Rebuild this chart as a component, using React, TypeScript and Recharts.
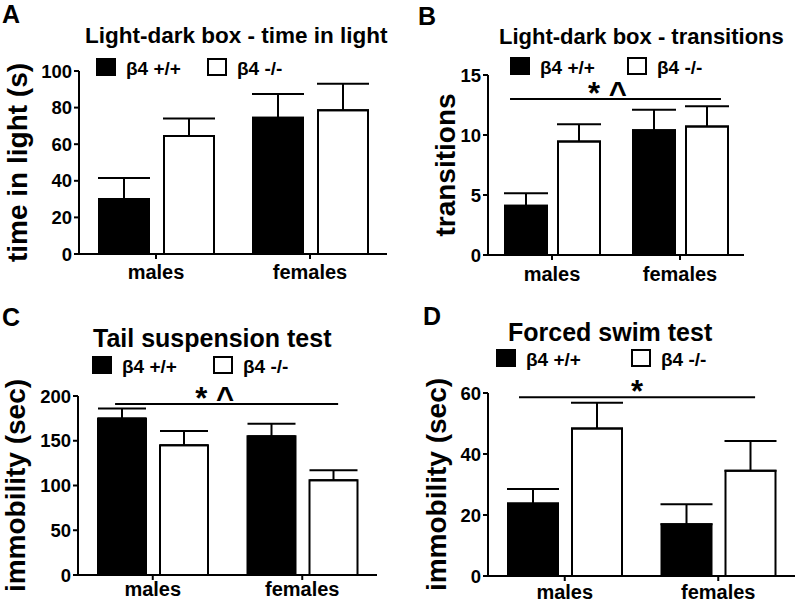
import React from "react";
import {
  BarChart,
  Bar,
  XAxis,
  YAxis,
  ErrorBar,
  Legend,
  ReferenceLine,
} from "recharts";

// groups on the x axis
const groups = ["males", "females"];
const genotypeNames = ["\u03b24 +/+", "\u03b24 -/-"];

// A: light-dark box, time in light (s)
const ldbTimeWt = [30, 74.5];
const ldbTimeWtErr = [11.5, 13];
const ldbTimeKo = [64.5, 78.5];
const ldbTimeKoErr = [9.5, 14.5];
const ldbTimeTicks = [0, 20, 40, 60, 80, 100];

// B: light-dark box, transitions
const ldbTransWt = [4.1, 10.4];
const ldbTransWtErr = [1.05, 1.7];
const ldbTransKo = [9.45, 10.7];
const ldbTransKoErr = [1.45, 1.7];
const ldbTransTicks = [0, 5, 10, 15];

// C: tail suspension, immobility (sec)
const tstWt = [175, 155];
const tstWtErr = [11, 14];
const tstKo = [145, 106];
const tstKoErr = [16, 11];
const tstTicks = [0, 50, 100, 150, 200];

// D: forced swim, immobility (sec)
const fstWt = [23.8, 17.0];
const fstWtErr = [4.7, 6.5];
const fstKo = [48.4, 34.5];
const fstKoErr = [8.4, 9.8];
const fstTicks = [0, 20, 40, 60];

const FONT = '"Liberation Sans", Arial, Helvetica, sans-serif';
const fillByKey: Record<string, string> = { wt: "#000", ko: "#fff" };

function buildRows(wt: number[], wtErr: number[], ko: number[], koErr: number[]) {
  return groups.map((g, i) => ({
    group: g,
    wt: wt[i],
    wtErr: [0, wtErr[i]],
    ko: ko[i],
    koErr: [0, koErr[i]],
  }));
}

function LegendRow({ payload, pitch }: any) {
  return (
    <div style={{ display: "flex", fontFamily: FONT }}>
      {(payload || []).map((entry: any) => (
        <div key={entry.value} style={{ display: "flex", width: pitch }}>
          <span
            style={{
              width: 20,
              height: 18,
              boxSizing: "border-box",
              border: "2px solid #000",
              background: fillByKey[entry.dataKey] ?? "#000",
            }}
          />
          <span
            style={{
              marginLeft: 10,
              marginTop: 2,
              fontSize: 19,
              fontWeight: "bold",
              lineHeight: "18px",
              whiteSpace: "nowrap",
            }}
          >
            {entry.value}
          </span>
        </div>
      ))}
    </div>
  );
}

function Panel(p: any) {
  const rows = buildRows(p.wt, p.wtErr, p.ko, p.koErr);
  const ticks = p.ticks;
  const axisStyle = { stroke: "#000", strokeWidth: 2 };
  return (
    <div style={{ position: "absolute", left: p.left, top: p.top }}>
      <BarChart
        width={p.width}
        height={p.height}
        data={rows}
        margin={p.margin}
        barSize={p.barSize}
        barGap={p.barGap}
      >
        <XAxis
          dataKey="group"
          height={p.xHeight}
          axisLine={axisStyle}
          tickLine={axisStyle}
          tickSize={5}
          tickMargin={p.xTickMargin}
          tick={{ fill: "#000", fontSize: 20, fontWeight: "bold", fontFamily: FONT }}
        />
        <XAxis xAxisId="sig" type="number" domain={[0, 1]} allowDataOverflow hide />
        <YAxis
          width={p.yWidth}
          domain={[ticks[0], ticks[ticks.length - 1]]}
          ticks={ticks}
          interval={0}
          axisLine={axisStyle}
          tickLine={axisStyle}
          tickSize={5}
          tickMargin={2}
          tick={{ fill: "#000", fontSize: 18.5, fontWeight: "bold", fontFamily: FONT }}
          label={{
            value: p.yLabel,
            angle: -90,
            position: "insideLeft",
            offset: p.yLabelOffset,
            style: {
              textAnchor: "middle",
              fontSize: 28,
              fontWeight: "bold",
              fill: "#000",
              fontFamily: FONT,
            },
          }}
        />
        <Legend
          layout="horizontal"
          align="center"
          verticalAlign="middle"
          wrapperStyle={{ left: p.legend.left, top: p.legend.top, width: 320, height: 20 }}
          content={(lp: any) => <LegendRow payload={lp.payload} pitch={p.legend.pitch} />}
        />
        <Bar
          dataKey="wt"
          name={genotypeNames[0]}
          fill="#000"
          stroke="#000"
          strokeWidth={2}
          isAnimationActive={false}
        >
          <ErrorBar
            dataKey="wtErr"
            direction="y"
            width={p.capWidth}
            stroke="#000"
            strokeWidth={2}
            isAnimationActive={false}
          />
        </Bar>
        <Bar
          dataKey="ko"
          name={genotypeNames[1]}
          fill="#fff"
          stroke="#000"
          strokeWidth={2}
          isAnimationActive={false}
        >
          <ErrorBar
            dataKey="koErr"
            direction="y"
            width={p.capWidth}
            stroke="#000"
            strokeWidth={2}
            isAnimationActive={false}
          />
        </Bar>
        {p.sig && (
          <ReferenceLine
            xAxisId="sig"
            segment={[
              { x: p.sig.from, y: p.sig.y },
              { x: p.sig.to, y: p.sig.y },
            ]}
            stroke="#000"
            strokeWidth={2}
            ifOverflow="visible"
            label={{
              value: p.sig.text,
              position: "top",
              offset: -5,
              dx: p.sig.dx,
              style: { fontSize: 31, fontWeight: "bold", fill: "#000", fontFamily: FONT },
            }}
          />
        )}
      </BarChart>
    </div>
  );
}

function Caption({ text, left, top, size }: any) {
  return (
    <div
      style={{
        position: "absolute",
        left,
        top,
        fontSize: size,
        lineHeight: 1,
        fontWeight: "bold",
        whiteSpace: "nowrap",
        fontFamily: FONT,
        color: "#000",
      }}
    >
      {text}
    </div>
  );
}

export default function App() {
  return (
    <div
      style={{
        position: "absolute",
        left: 0,
        top: 0,
        width: 797,
        height: 602,
        background: "#fff",
        fontFamily: FONT,
        overflow: "hidden",
      }}
    >
      <Panel
        left={0}
        top={0}
        width={400}
        height={300}
        margin={{ top: 71, right: 13, bottom: 16, left: 0 }}
        yWidth={79}
        xHeight={30}
        xTickMargin={6}
        barSize={50}
        barGap={15}
        capWidth={26}
        ticks={ldbTimeTicks}
        yLabel="time in light (s)"
        yLabelOffset={17}
        wt={ldbTimeWt}
        wtErr={ldbTimeWtErr}
        ko={ldbTimeKo}
        koErr={ldbTimeKoErr}
        legend={{ left: 96, top: 58, pitch: 111 }}
      />
      <Panel
        left={400}
        top={0}
        width={397}
        height={300}
        margin={{ top: 75, right: 53, bottom: 15, left: 0 }}
        yWidth={88}
        xHeight={30}
        xTickMargin={7}
        barSize={42}
        barGap={11}
        capWidth={22}
        ticks={ldbTransTicks}
        yLabel="transitions"
        yLabelOffset={45}
        wt={ldbTransWt}
        wtErr={ldbTransWtErr}
        ko={ldbTransKo}
        koErr={ldbTransKoErr}
        legend={{ left: 110, top: 57, pitch: 117 }}
        sig={{ y: 13.0, from: 0.086, to: 0.91, text: "* ^", dx: -8 }}
      />
      <Panel
        left={0}
        top={300}
        width={400}
        height={302}
        margin={{ top: 96, right: 23, bottom: 3, left: 0 }}
        yWidth={78}
        xHeight={24}
        xTickMargin={2}
        barSize={48}
        barGap={14}
        capWidth={24}
        ticks={tstTicks}
        yLabel="immobility (sec)"
        yLabelOffset={15}
        wt={tstWt}
        wtErr={tstWtErr}
        ko={tstKo}
        koErr={tstKoErr}
        legend={{ left: 92, top: 56, pitch: 121 }}
        sig={{ y: 191, from: 0.124, to: 0.87, text: "* ^", dx: -12 }}
      />
      <Panel
        left={400}
        top={300}
        width={397}
        height={302}
        margin={{ top: 93, right: 2, bottom: 2, left: 0 }}
        yWidth={88}
        xHeight={24}
        xTickMargin={4}
        barSize={50}
        barGap={14}
        capWidth={26}
        ticks={fstTicks}
        yLabel="immobility (sec)"
        yLabelOffset={36}
        wt={fstWt}
        wtErr={fstWtErr}
        ko={fstKo}
        koErr={fstKoErr}
        legend={{ left: 96, top: 49, pitch: 135 }}
        sig={{ y: 58.6, from: 0.101, to: 0.87, text: "*", dx: 0 }}
      />

      <Caption text="A" left={2} top={2} size={25} />
      <Caption text="B" left={418} top={4} size={25} />
      <Caption text="C" left={2} top={305} size={25} />
      <Caption text="D" left={423} top={304} size={25} />

      <Caption text="Light-dark box - time in light" left={85} top={25} size={22.5} />
      <Caption text="Light-dark box - transitions" left={499} top={26} size={22} />
      <Caption text="Tail suspension test" left={93} top={326} size={25} />
      <Caption text="Forced swim test" left={508} top={320} size={25} />
    </div>
  );
}
